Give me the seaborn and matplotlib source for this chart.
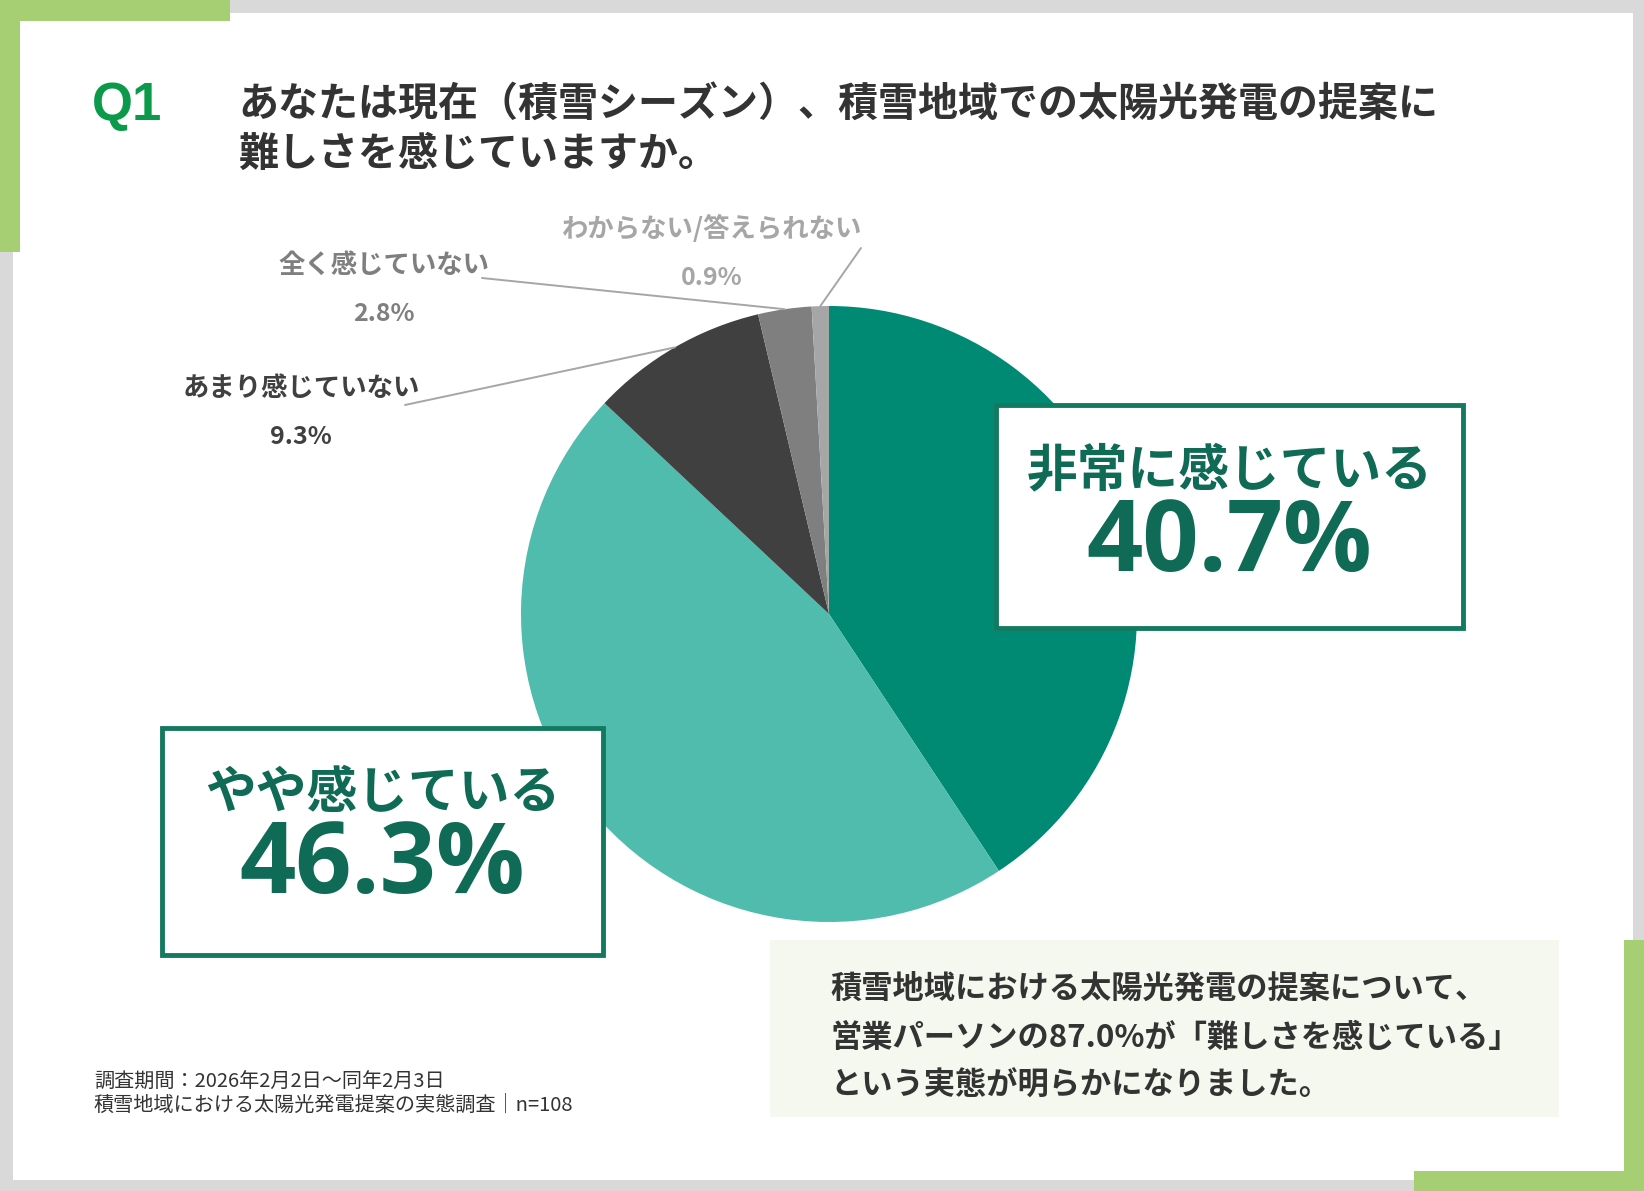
import matplotlib
matplotlib.use("Agg")
import matplotlib.pyplot as plt
import seaborn as sns
from matplotlib.patches import Rectangle
import numpy as np

# --- DATA ---
CATEGORIES = ["非常に感じている", "やや感じている", "あまり感じていない", "全く感じていない", "わからない/答えられない"]
SHARES = [40.7, 46.3, 9.3, 2.8, 0.9]
TITLE_LINES = ["あなたは現在（積雪シーズン）、積雪地域での太陽光発電の提案に", "難しさを感じていますか。"]
SUMMARY_LINES = ["積雪地域における太陽光発電の提案について、",
                 "営業パーソンの87.0%が「難しさを感じている」",
                 "という実態が明らかになりました。"]
FOOTER_LINES = ["調査期間：2026年2月2日～同年2月3日", "積雪地域における太陽光発電提案の実態調査│n=108"]

# --- STYLE ---
W, H = 1644, 1191
PIE_COLORS = ["#008a73", "#4fbcad", "#404040", "#7f7f7f", "#a6a6a6"]
LABEL_COLORS = {"あまり感じていない": "#404040", "全く感じていない": "#7f7f7f", "わからない/答えられない": "#a6a6a6"}
GREEN = "#a5cf72"
BOX_EDGE = "#147a5f"
BOX_TEXT = "#0f6b55"
DARK = "#333333"
JP = ["Noto Sans CJK JP", "DejaVu Sans"]

sns.set_theme(style="white")
plt.rcParams["font.family"] = JP

fig = plt.figure(figsize=(W / 100, H / 100), dpi=100, facecolor="#d9d9d9")

# background / frame layer in pixel coordinates
bg = fig.add_axes([0, 0, 1, 1], zorder=0)
bg.set_xlim(0, W)
bg.set_ylim(H, 0)
bg.axis("off")
bg.add_patch(Rectangle((13, 13), 1620, 1167, color="white", lw=0))
bg.add_patch(Rectangle((0, 0), 230, 21, color=GREEN, lw=0))
bg.add_patch(Rectangle((0, 0), 20, 252, color=GREEN, lw=0))
bg.add_patch(Rectangle((1624, 940), 20, 251, color=GREEN, lw=0))
bg.add_patch(Rectangle((1414, 1171), 230, 20, color=GREEN, lw=0))
bg.add_patch(Rectangle((770, 940), 789, 177, color="#f4f8ee", lw=0))

# pie layer
cx, cy, r = 829, 614, 308
ax = fig.add_axes([(cx - r) / W, 1 - (cy + r) / H, 2 * r / W, 2 * r / H], zorder=1)
wedges, _ = ax.pie(SHARES, colors=PIE_COLORS, startangle=90, counterclock=False,
                   wedgeprops=dict(linewidth=0))
ax.set_xlim(-1, 1)
ax.set_ylim(-1, 1)
ax.set_aspect("equal")

# overlay layer for boxes and text
top = fig.add_axes([0, 0, 1, 1], zorder=2)
top.set_xlim(0, W)
top.set_ylim(H, 0)
top.patch.set_alpha(0)
top.axis("off")

top.text(92, 120, "Q1", fontsize=38, fontweight="bold", color="#0a9a4a",
         family=["Liberation Sans", "DejaVu Sans"], va="baseline", ha="left")
for i, line in enumerate(TITLE_LINES):
    top.text(238, 104 + 50 * i, line, fontsize=28.8, fontweight="bold", color=DARK,
             va="center", ha="left")

# big boxed labels for the two main slices
big = [(CATEGORIES[0], SHARES[0], (996, 405, 467, 223)),
       (CATEGORIES[1], SHARES[1], (162, 728, 441, 227))]
for name, val, (bx, by, bw, bh) in big:
    top.add_patch(Rectangle((bx, by), bw, bh, facecolor="white", edgecolor=BOX_EDGE, lw=3.5))
    mx = bx + bw / 2
    top.text(mx, by + 66, name, fontsize=36.5, fontweight="bold", color=BOX_TEXT,
             ha="center", va="center")
    top.text(mx, by + 140, f"{val:.1f}%", fontsize=71, fontweight="bold", color=BOX_TEXT,
             family=["Open Sans", "Noto Sans CJK JP"], ha="center", va="center")

# small labels with leader lines
small_pos = {"あまり感じていない": (301, 388, 405, 405),
             "全く感じていない": (384, 265, 482, 278),
             "わからない/答えられない": (712, 229, 861, 248)}
cum = np.cumsum([0] + SHARES)
for i, name in enumerate(CATEGORIES[2:], start=2):
    tx, ty, lx, ly = small_pos[name]
    col = LABEL_COLORS[name]
    top.text(tx, ty, name, fontsize=19, fontweight="bold", color=col, ha="center", va="center")
    top.text(tx, ty + 49, f"{SHARES[i]:.1f}%", fontsize=18, fontweight="bold", color=col,
             ha="center", va="center")
    mid = (cum[i] + cum[i + 1]) / 2 / 100
    ang = np.deg2rad(90 - 360 * mid)
    top.annotate("", xy=(np.cos(ang), np.sin(ang)), xycoords=ax.transData,
                 xytext=(lx, ly), textcoords=top.transData,
                 arrowprops=dict(arrowstyle="-", color="#a6a6a6", lw=1.4,
                                 shrinkA=0, shrinkB=0))

for i, line in enumerate(SUMMARY_LINES):
    top.text(830, 989 + 48.5 * i, line, fontsize=22.5, fontweight="bold", color=DARK,
             ha="left", va="center")

for i, line in enumerate(FOOTER_LINES):
    top.text(94, 1082 + 23 * i, line, fontsize=14.5, color=DARK, ha="left", va="center")

fig.savefig("out.png", dpi=100, facecolor=fig.get_facecolor())
